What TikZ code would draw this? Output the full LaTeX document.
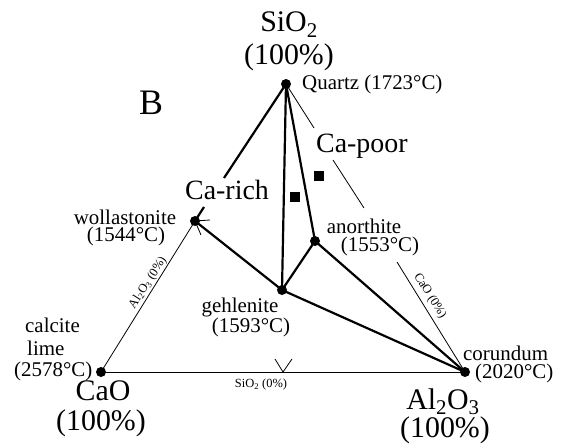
\documentclass[tikz,border=0pt]{standalone}
\usepackage{fontspec}
\setmainfont{Liberation Serif}
\begin{document}
\begin{tikzpicture}[x=1bp,y=-1bp,
  thinline/.style={line width=0.8bp},
  thickline/.style={line width=2.2bp},
  dot/.style={circle,fill=black,inner sep=0pt,minimum size=10bp},
  sq/.style={rectangle,fill=black,inner sep=0pt,minimum size=10.5bp},
  big/.style={font=\fontsize{30}{30}\selectfont,inner sep=0pt},
  bigb/.style={font=\fontsize{28}{28}\selectfont,inner sep=0pt},
  mid/.style={font=\fontsize{21}{21}\selectfont,inner sep=0pt},
  small/.style={font=\fontsize{12.5}{12.5}\selectfont,inner sep=0pt}
]
\useasboundingbox (0,0) rectangle (561,446);
\fill[white] (0,0) rectangle (561,446);

% vertices / phases
\node[dot] (qz) at (286,84) {};
\node[dot] (wo) at (195,221) {};
\node[dot] (ge) at (282,290) {};
\node[dot] (an) at (315,241) {};
\node[dot] (ca) at (101,372) {};
\node[dot] (co) at (465,372) {};

% break points
\coordinate (r1) at (314,128);
\coordinate (r2) at (333,160);
\coordinate (r3) at (364,208);
\coordinate (r4) at (397,262);
\coordinate (l1) at (204,207);
\coordinate (l2) at (224,178);
\coordinate (wt1) at (210,220);
\coordinate (wt2) at (201,235);
\coordinate (bt0) at (283,372);
\coordinate (bt1) at (275,359);
\coordinate (bt2) at (292,359);

% outer thin edges
\draw[thinline] (ca.center) -- (co.center);
\draw[thinline] (ca.center) -- (wo.center);
\draw[thinline] (qz.center) -- (r1);
\draw[thinline] (r2) -- (r3);
\draw[thinline] (r4) -- (co.center);
% ticks
\draw[thinline] (wt1) -- (wo.center) -- (wt2);
\draw[thinline] (bt1) -- (bt0) -- (bt2);

% thick tie lines
\draw[thickline] (wo.center) -- (l1);
\draw[thickline] (l2) -- (qz.center);
\draw[thickline] (qz.center) -- (ge.center);
\draw[thickline] (qz.center) -- (an.center);
\draw[thickline] (wo.center) -- (ge.center);
\draw[thickline] (ge.center) -- (an.center);
\draw[thickline] (an.center) -- (co.center);
\draw[thickline] (ge.center) -- (co.center);

% squares
\node[sq] (s1) at (295,197) {};
\node[sq] (s2) at (319,176) {};

% labels
\node[big,anchor=base] (tsio) at (289,32) {SiO\textsubscript{2}};
\node[big,anchor=base] (tsio2) at (289,65) {(100\%)};
\node[font=\fontsize{36}{36}\selectfont,inner sep=0pt,anchor=base] (tb) at (151,115) {B};
\node[mid,anchor=base west] (tqz) at (302,90) {Quartz (1723°C)};
\node[bigb,anchor=base west] (tcp) at (316,153) {Ca-poor};
\node[bigb,anchor=base west] (tcr) at (185,200) {Ca-rich};
\node[mid,anchor=base] (two) at (125,225) {wollastonite};
\node[mid,anchor=base] (two2) at (126,242) {(1544°C)};
\node[mid,anchor=base] (tan) at (364,234) {anorthite};
\node[mid,anchor=base] (tan2) at (380,252) {(1553°C)};
\node[mid,anchor=base] (tge) at (240,312) {gehlenite};
\node[mid,anchor=base] (tge2) at (251,332) {(1593°C)};
\node[mid,anchor=base west] (tcal) at (25,332) {calcite};
\node[mid,anchor=base west] (tlime) at (27,355) {lime};
\node[mid,anchor=base west] (tcal2) at (14,376) {(2578°C)};
\node[big,anchor=base] (tcao) at (103,400) {CaO};
\node[big,anchor=base] (tcao2) at (101,430) {(100\%)};
\node[big,anchor=base] (tal) at (443,409) {Al\textsubscript{2}O\textsubscript{3}};
\node[big,anchor=base] (tal2) at (445,437) {(100\%)};
\node[mid,anchor=base west] (tco) at (463,360) {corundum};
\node[mid,anchor=base west] (tco2) at (475,378) {(2020°C)};
\node[small] (tsi0) at (261,385) {SiO\textsubscript{2} (0\%)};
\node[small,rotate=57] (tal0) at (148,283) {Al\textsubscript{2}O\textsubscript{3} (0\%)};
\node[small,rotate=-58] (tca0) at (430,296) {CaO (0\%)};
\end{tikzpicture}
\end{document}
